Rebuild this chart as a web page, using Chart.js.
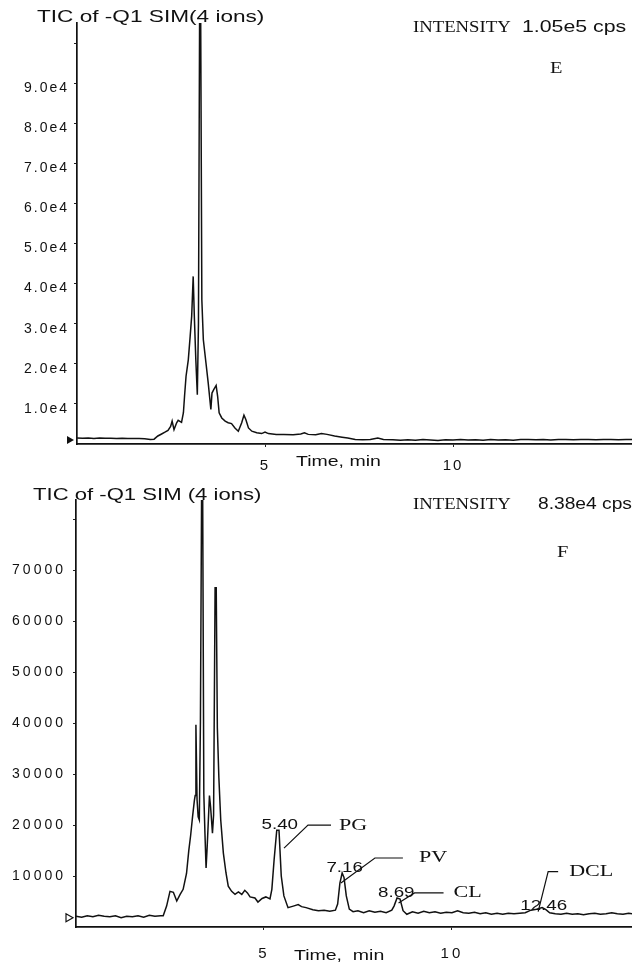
<!DOCTYPE html>
<html><head><meta charset="utf-8">
<script src="https://cdn.jsdelivr.net/npm/chart.js@4.4.1/dist/chart.umd.min.js"></script>
<style>
html,body{margin:0;padding:0;background:#fff;}
#wrap{position:relative;width:632px;height:963px;overflow:hidden;background:#fff}
canvas{position:absolute;left:0}
#cE{top:0}
#cF{top:475px}
</style></head><body>
<div id="wrap"><canvas id="cE" width="632" height="475"></canvas><canvas id="cF" width="632" height="488"></canvas></div>
<script>
// ---------- Panel E data ----------
const timeE = [0.00,0.15,0.30,0.45,0.60,0.75,0.90,1.05,1.20,1.35,1.50,1.65,1.80,1.95,2.05,2.15,2.25,2.35,2.42,2.49,2.53,2.58,2.65,2.69,2.78,2.83,2.86,2.90,2.96,3.01,3.05,3.09,3.12,3.16,3.20,3.23,3.26,3.29,3.32,3.36,3.43,3.49,3.56,3.59,3.64,3.70,3.74,3.78,3.85,3.94,4.02,4.11,4.20,4.29,4.38,4.44,4.49,4.56,4.65,4.78,4.91,5.00,5.09,5.30,5.50,5.75,5.95,6.05,6.15,6.35,6.50,6.65,6.85,7.05,7.20,7.40,7.60,7.80,8.00,8.15,8.40,8.60,8.80,9.00,9.20,9.40,9.60,9.80,10.0,10.2,10.4,10.6,10.8,11.0,11.2,11.4,11.6,11.8,12.0,12.2,12.4,12.6,12.8,13.0,13.2,13.4,13.6,13.8,14.0,14.2,14.4,14.6,14.76];
const intensityE = [1500,1450,1500,1400,1480,1420,1450,1400,1440,1380,1400,1350,1300,1150,1200,2000,2500,3000,3400,4400,5700,3600,5300,5900,5400,7800,11900,16900,21000,26900,31900,41800,31900,21000,12300,30000,105000,105000,36000,26000,20200,15200,8600,12700,13600,14600,11900,7800,6500,5700,5300,5100,4000,3200,5300,7200,6100,4000,3200,2800,2600,3000,2600,2400,2400,2300,2500,2800,2400,2300,2600,2400,2000,1700,1500,1100,1050,1100,1500,1100,1050,950,1050,950,1100,1000,900,1050,1000,1100,1000,1050,950,1100,1000,1050,950,1100,1150,1050,1100,1000,1150,1100,1050,1150,1100,1050,1150,1100,1050,1150,1100];
const yTicksE = [10000,20000,30000,40000,50000,60000,70000,80000,90000,100000];
const yTickLabelsE = ['1.0e4','2.0e4','3.0e4','4.0e4','5.0e4','6.0e4','7.0e4','8.0e4','9.0e4',''];
const yMaxE = 105000;
const baselineMarkE = 1000;

// ---------- Panel F data ----------
const timeF = [0.00,0.15,0.30,0.45,0.60,0.75,0.90,1.05,1.20,1.35,1.50,1.65,1.80,1.95,2.10,2.25,2.32,2.41,2.50,2.59,2.68,2.77,2.85,2.94,3.00,3.05,3.10,3.15,3.17,3.19,3.22,3.25,3.28,3.31,3.34,3.37,3.40,3.43,3.46,3.49,3.55,3.58,3.63,3.66,3.70,3.73,3.76,3.80,3.85,3.92,3.99,4.05,4.14,4.23,4.32,4.41,4.49,4.56,4.63,4.76,4.84,4.95,5.05,5.16,5.21,5.27,5.34,5.40,5.46,5.53,5.64,5.78,5.91,6.00,6.12,6.30,6.45,6.60,6.75,6.90,6.96,7.02,7.08,7.13,7.19,7.27,7.37,7.50,7.65,7.80,7.95,8.10,8.25,8.40,8.46,8.54,8.62,8.70,8.80,8.95,9.10,9.25,9.40,9.55,9.70,9.85,10.00,10.15,10.30,10.45,10.60,10.75,10.90,11.05,11.20,11.35,11.50,11.65,11.80,11.95,12.10,12.25,12.40,12.50,12.60,12.75,12.90,13.05,13.20,13.35,13.50,13.65,13.80,13.95,14.10,14.25,14.40,14.55,14.70,14.79];
const intensityF = [2100,1900,2200,2000,2300,2100,2000,2200,1800,2100,2000,2200,1900,2300,2100,2200,2200,4100,7000,6800,5100,6400,7400,10500,15000,18000,21600,24900,25800,39700,25000,21600,21000,40400,83800,83800,26200,18400,11600,15800,25800,23600,18400,22000,66600,66600,39100,29400,21000,14500,10600,8000,7000,6400,6900,6400,7200,6700,5900,5700,4900,5600,5900,5500,7400,13200,19000,19000,10000,6100,3800,4100,4400,4000,3800,3400,3200,3300,3100,3300,4500,8600,10600,9700,6100,3500,3000,3200,2800,3200,2900,3100,2800,3300,4100,5700,5500,3200,2500,3000,2700,3100,2800,3000,2700,2900,2800,3200,2800,2700,2900,2600,2800,2500,2700,2500,2700,2600,2700,2800,3300,3500,3800,3400,2800,2600,2500,2700,2500,2600,2400,2600,2700,2500,2600,2800,2600,2500,2700,2600];
const yTicksF = [10000,20000,30000,40000,50000,60000,70000,80000];
const yTickLabelsF = ['10000','20000','30000','40000','50000','60000','70000',''];
const yMaxF = 83800;
const baselineMarkF = 1800;

// peak annotations (panel F)
const peakTimes = [5.40, 7.10, 8.58, 12.40];
const peakValues = [19000, 10600, 5700, 3800];
const peakRT = ['5.40','7.16','8.69','12.46'];
const peakNames = ['PG','PV','CL','DCL'];

// shared x axis
const xTicks = [5, 10];
const xTickLabels = ['5', '10'];

// ---------- helpers ----------
function sText(ctx, txt, x, y, font, sx, align) {
  ctx.save();
  ctx.letterSpacing = '0px';
  ctx.font = font; ctx.fillStyle = '#111';
  ctx.textBaseline = 'middle'; ctx.textAlign = 'left';
  const w = ctx.measureText(txt).width * sx;
  const left = align === 'right' ? x - w : (align === 'center' ? x - w / 2 : x);
  ctx.translate(left, y); ctx.scale(sx, 1);
  ctx.fillText(txt, 0, 0);
  ctx.restore();
}

function makeChart(id, times, vals, cfg) {
  const spacingPlugin = {
    id: 'spacing',
    beforeDraw(chart) { chart.ctx.letterSpacing = cfg.tickSpacing; },
    afterDraw(chart) { chart.ctx.letterSpacing = '0px'; cfg.decorate(chart); }
  };
  return new Chart(document.getElementById(id), {
    type: 'line',
    data: { datasets: [{
      data: times.map((t, i) => ({ x: t, y: vals[i] })),
      borderColor: '#111', borderWidth: 1.5, pointRadius: 0, tension: 0, fill: false
    }]},
    options: {
      responsive: false, animation: false, devicePixelRatio: 1,
      layout: { padding: { top: cfg.padTop, right: 0, left: 0, bottom: 0 } },
      plugins: { legend: { display: false }, tooltip: { enabled: false }, title: { display: false } },
      scales: {
        x: {
          type: 'linear', min: 0, max: cfg.xMax,
          afterBuildTicks: s => { s.ticks = xTicks.map(v => ({ value: v })); },
          afterFit: s => { s.height = cfg.xHeight; },
          ticks: { callback: (v) => xTickLabels[xTicks.indexOf(v)], color: '#111',
                   font: { family: 'Liberation Sans', size: 15 }, padding: cfg.xPad, maxRotation: 0 },
          grid: { drawOnChartArea: false, drawTicks: true, tickLength: 3, color: '#222' },
          border: { display: true, color: '#111', width: 1.7 }
        },
        y: {
          type: 'linear', min: 0, max: cfg.yMax,
          afterBuildTicks: s => { s.ticks = cfg.yTicks.map(v => ({ value: v })); },
          afterFit: s => { s.width = cfg.yWidth; },
          ticks: { callback: (v) => cfg.yLabels[cfg.yTicks.indexOf(v)], color: '#111',
                   font: { family: 'Liberation Sans', size: 14 }, padding: cfg.yPad, labelOffset: cfg.yLabelOffset },
          grid: { drawOnChartArea: false, drawTicks: true, tickLength: 3, color: '#222' },
          border: { display: true, color: '#111', width: 1.7 }
        }
      }
    },
    plugins: [spacingPlugin]
  });
}

function marker(chart, value, filled) {
  const ctx = chart.ctx, y = chart.scales.y.getPixelForValue(value), x = chart.chartArea.left;
  ctx.save();
  ctx.beginPath(); ctx.moveTo(x - 10, y - 4); ctx.lineTo(x - 3, y); ctx.lineTo(x - 10, y + 4); ctx.closePath();
  ctx.lineWidth = 1.2; ctx.strokeStyle = '#111'; ctx.fillStyle = '#111';
  if (filled) ctx.fill(); else ctx.stroke();
  ctx.restore();
}

// ---------- Panel E ----------
makeChart('cE', timeE, intensityE, {
  padTop: 23, xHeight: 31, yWidth: 77, xMax: 14.76, yMax: yMaxE, yTicks: yTicksE, yLabels: yTickLabelsE,
  xPad: 10, yPad: 5, yLabelOffset: 5, tickSpacing: '2px',
  decorate(chart) {
    const ctx = chart.ctx;
    sText(ctx, 'TIC of -Q1 SIM(4 ions)', 37, 17, '17px "Liberation Sans"', 1.33, 'left');
    sText(ctx, 'INTENSITY', 413, 28, '17px "Liberation Serif"', 1.1, 'left');
    sText(ctx, '1.05e5 cps', 522, 28, '16px "Liberation Sans"', 1.33, 'left');
    sText(ctx, 'E', 550, 69, '17px "Liberation Serif"', 1.2, 'left');
    sText(ctx, 'Time, min', 296, 462, '15px "Liberation Sans"', 1.3, 'left');
    marker(chart, baselineMarkE, true);
  }
});

// ---------- Panel F ----------
const annStyle = [
  { num: [19, -5], line: [[5, 18], [29, -5], [52, -5]], name: [60, -5] },
  { num: [20, -5], line: [[-2, 10], [32, -15], [60, -15]], name: [76, -15] },
  { num: [16, -5], line: [[0, 5], [16, -5], [45, -5]], name: [55, -5] },
  { num: [25, -2], line: [[-4, 4], [6, -36], [16, -36]], name: [27, -36] }
];
makeChart('cF', timeF, intensityF, {
  padTop: 25, xHeight: 36, yWidth: 76, xMax: 14.79, yMax: yMaxF, yTicks: yTicksF, yLabels: yTickLabelsF,
  xPad: 15, yPad: 7, yLabelOffset: 0, tickSpacing: '3px',
  decorate(chart) {
    const ctx = chart.ctx;
    sText(ctx, 'TIC of -Q1 SIM (4 ions)', 33, 20, '17px "Liberation Sans"', 1.3, 'left');
    sText(ctx, 'INTENSITY', 413, 30, '17px "Liberation Serif"', 1.1, 'left');
    sText(ctx, '8.38e4 cps', 538, 30, '16px "Liberation Sans"', 1.2, 'left');
    sText(ctx, 'F', 557, 78, '17px "Liberation Serif"', 1.2, 'left');
    sText(ctx, 'Time,  min', 294, 481, '15px "Liberation Sans"', 1.3, 'left');
    marker(chart, baselineMarkF, false);
    const xs = chart.scales.x, ys = chart.scales.y;
    peakTimes.forEach((t, i) => {
      const px = xs.getPixelForValue(t), py = ys.getPixelForValue(peakValues[i]);
      const st = annStyle[i];
      ctx.save();
      ctx.strokeStyle = '#111'; ctx.lineWidth = 1.2;
      ctx.beginPath();
      st.line.forEach((p, k) => { if (k === 0) ctx.moveTo(px + p[0], py + p[1]); else ctx.lineTo(px + p[0], py + p[1]); });
      ctx.stroke();
      ctx.restore();
      sText(ctx, peakRT[i], px + st.num[0], py + st.num[1], '15px "Liberation Sans"', 1.25, 'right');
      sText(ctx, peakNames[i], px + st.name[0], py + st.name[1], '17px "Liberation Serif"', 1.3, 'left');
    });
  }
});
</script>
</body></html>
